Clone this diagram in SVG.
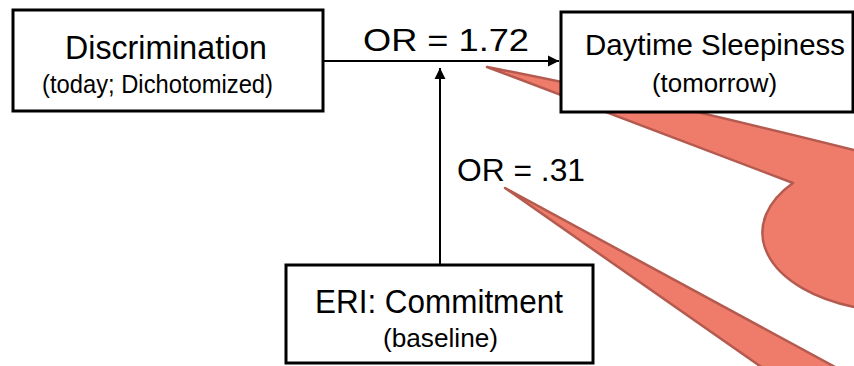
<svg xmlns="http://www.w3.org/2000/svg" width="854" height="366" viewBox="0 0 854 366">
  <style>
    .box { fill: #ffffff; stroke: #000000; stroke-width: 3; }
    .big { font-family: "Liberation Sans", "DejaVu Sans", sans-serif; fill: #000000; }
    .callout { fill: #EF7B6B; stroke: #B55A4F; stroke-width: 2.5; stroke-linejoin: round; }
    .link { stroke: #000000; stroke-width: 2; fill: none; }
  </style>
  <defs>
    <marker id="head" markerUnits="userSpaceOnUse" markerWidth="12" markerHeight="12" viewBox="0 0 12 12" refX="11" refY="6" orient="auto">
      <path d="M0,0.5 L11,6 L0,11.5 Z" fill="#000000"/>
    </marker>
  </defs>

  <!-- callout pointers -->
  <g id="callouts">
    <path class="callout" d="M487,67 Q633,95 854,150 L900,150 L900,307 L854,307 A138 79 0 0 1 793,183 Z"/>
    <path class="callout" d="M505,188 L859,380 L780,380 Z"/>
  </g>

  <!-- connectors -->
  <g id="connectors">
    <line class="link" x1="323" y1="61" x2="559" y2="61" marker-end="url(#head)"/>
    <line class="link" x1="440" y1="265" x2="440" y2="68" marker-end="url(#head)"/>
    <text class="big" x="363" y="51" font-size="32" textLength="166" lengthAdjust="spacingAndGlyphs">OR = 1.72</text>
    <text class="big" x="457" y="181" font-size="32" textLength="128" lengthAdjust="spacingAndGlyphs">OR = .31</text>
  </g>

  <g id="discrimination">
    <rect class="box" x="13" y="10" width="310" height="101"/>
    <text class="big" x="65" y="59" font-size="33" textLength="202" lengthAdjust="spacingAndGlyphs">Discrimination</text>
    <text class="big" x="42" y="93" font-size="26" textLength="231" lengthAdjust="spacingAndGlyphs">(today; Dichotomized)</text>
  </g>

  <g id="sleepiness">
    <rect class="box" x="561" y="12" width="292" height="100"/>
    <text class="big" x="585" y="55" font-size="29" textLength="260" lengthAdjust="spacingAndGlyphs">Daytime Sleepiness</text>
    <text class="big" x="652" y="92" font-size="25" textLength="125" lengthAdjust="spacingAndGlyphs">(tomorrow)</text>
  </g>

  <g id="commitment">
    <rect class="box" x="286" y="265" width="307" height="98"/>
    <text class="big" x="315" y="313" font-size="33" textLength="248" lengthAdjust="spacingAndGlyphs">ERI: Commitment</text>
    <text class="big" x="383" y="347" font-size="25" textLength="115" lengthAdjust="spacingAndGlyphs">(baseline)</text>
  </g>
</svg>
